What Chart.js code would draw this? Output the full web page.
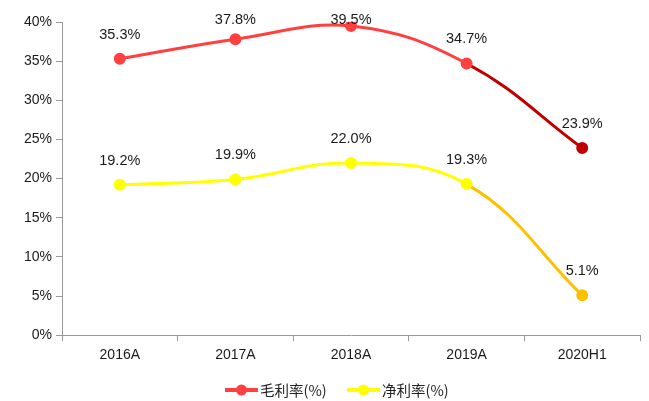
<!DOCTYPE html>
<html>
<head>
<meta charset="utf-8">
<script src="https://cdn.jsdelivr.net/npm/chart.js@4/dist/chart.umd.min.js"></script>
<style>
html,body{margin:0;padding:0;background:#fff;}
#wrap{width:649px;height:401px;}
</style>
</head>
<body>
<div id="wrap"><canvas id="c" width="649" height="401"></canvas></div>
<script>
const categories = ["2016A", "2017A", "2018A", "2019A", "2020H1"];
const grossMargin = [35.3, 37.8, 39.5, 34.7, 23.9];
const netMargin = [19.2, 19.9, 22.0, 19.3, 5.1];
const seriesNames = ["毛利率(%)", "净利率(%)"];
const yTicks = [0, 5, 10, 15, 20, 25, 30, 35, 40];

const redMain = "#ff4040", redDark = "#c00000";
const yelMain = "#ffff00", yelDark = "#ffc000";

const labelPlugin = {
  id: "valueLabels",
  afterDatasetsDraw(chart) {
    const ctx = chart.ctx;
    ctx.save();
    ctx.font = "14.5px 'Liberation Sans', Arial, sans-serif";
    ctx.fillStyle = "#1a1a1a";
    ctx.textAlign = "center";
    ctx.textBaseline = "middle";
    chart.data.datasets.forEach((ds, i) => {
      const meta = chart.getDatasetMeta(i);
      meta.data.forEach((pt, j) => {
        const y = Math.max(pt.y - 24, 20);
        ctx.fillText(ds.data[j].toFixed(1) + "%", pt.x, y);
      });
    });
    ctx.restore();
  }
};

// bottom legend: line + marker icon followed by series name
const legendPlugin = {
  id: "bottomLegend",
  afterDraw(chart) {
    const ctx = chart.ctx;
    const cy = 390;
    const items = [
      { x: 225, color: redMain, text: seriesNames[0] },
      { x: 347, color: yelMain, text: seriesNames[1] }
    ];
    ctx.save();
    ctx.font = "14.5px 'Noto Sans CJK SC'";
    ctx.textBaseline = "middle";
    ctx.textAlign = "left";
    items.forEach(it => {
      ctx.strokeStyle = it.color; ctx.lineWidth = 4;
      ctx.beginPath(); ctx.moveTo(it.x, cy); ctx.lineTo(it.x + 33, cy); ctx.stroke();
      ctx.fillStyle = it.color;
      ctx.beginPath(); ctx.arc(it.x + 16.5, cy, 5.5, 0, Math.PI * 2); ctx.fill();
      ctx.fillStyle = "#222";
      ctx.fillText(it.text, it.x + 35, cy);
    });
    ctx.restore();
  }
};

const lastIdx = categories.length - 1;
function ptColors(main, dark) {
  return categories.map((_, i) => i === lastIdx ? dark : main);
}

new Chart(document.getElementById("c"), {
  type: "line",
  data: {
    labels: categories,
    datasets: [
      {
        label: seriesNames[0],
        data: grossMargin,
        borderColor: redMain,
        backgroundColor: redMain,
        pointBackgroundColor: ptColors(redMain, redDark),
        pointBorderColor: ptColors(redMain, redDark),
        pointStyle: "circle",
        pointRadius: 4.5,
        borderWidth: 3,
        tension: 0.4,
        segment: { borderColor: c => c.p1DataIndex === lastIdx ? redDark : redMain }
      },
      {
        label: seriesNames[1],
        data: netMargin,
        borderColor: yelMain,
        backgroundColor: yelMain,
        pointBackgroundColor: ptColors(yelMain, yelDark),
        pointBorderColor: ptColors(yelMain, yelDark),
        pointStyle: "circle",
        pointRadius: 4.5,
        borderWidth: 3,
        tension: 0.4,
        segment: { borderColor: c => c.p1DataIndex === lastIdx ? yelDark : yelMain }
      }
    ]
  },
  options: {
    responsive: false,
    animation: false,
    layout: { padding: { top: 22, right: 9, left: 0, bottom: 31 } },
    plugins: {
      tooltip: { enabled: false },
      legend: { display: false }
    },
    scales: {
      x: {
        offset: true,
        grid: { display: true, drawOnChartArea: false, drawTicks: true, tickLength: 6, color: "#999", offset: true },
        border: { display: true, color: "#999" },
        ticks: { color: "#1a1a1a", font: { family: "'Liberation Sans', Arial, sans-serif", size: 14 }, padding: 6 }
      },
      y: {
        min: 0, max: 40,
        afterBuildTicks(axis) { axis.ticks = yTicks.map(v => ({ value: v })); },
        afterFit(axis) { axis.width = 62; },
        grid: { display: true, drawOnChartArea: false, drawTicks: true, tickLength: 6, color: "#999" },
        border: { display: true, color: "#999" },
        ticks: { color: "#1a1a1a", font: { family: "'Liberation Sans', Arial, sans-serif", size: 14 }, padding: 4, callback: v => v + "%" }
      }
    }
  },
  plugins: [labelPlugin, legendPlugin]
});
</script>
</body>
</html>
